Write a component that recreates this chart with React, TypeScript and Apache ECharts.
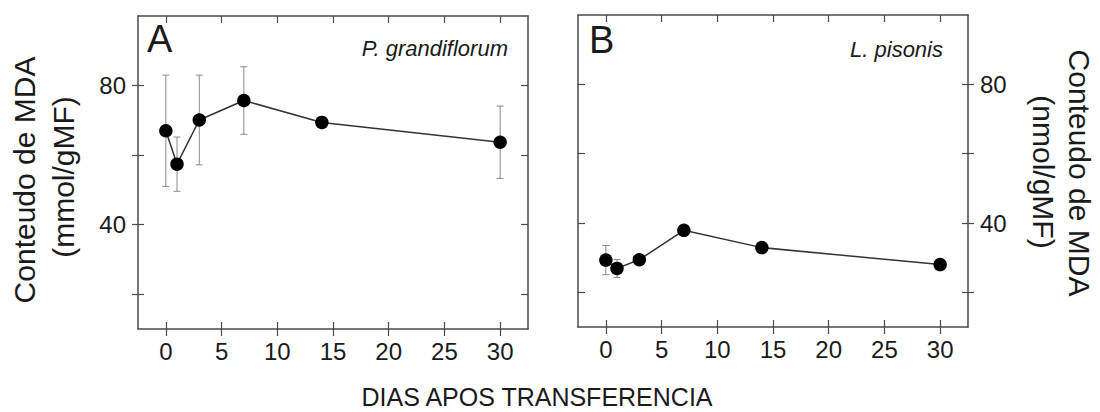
import React, { useEffect, useRef } from "react";
import * as echarts from "echarts";

const days = [0, 1, 3, 7, 14, 30];
const mdaA = [67.0, 57.4, 70.1, 75.7, 69.4, 63.7];
const errA = [16.0, 7.8, 12.9, 9.7, 0, 10.4];
const mdaB = [29.3, 26.9, 29.4, 37.9, 32.9, 28.0];
const errB = [4.2, 2.6, 0, 0, 0, 0];
const xTicks = [0, 5, 10, 15, 20, 25, 30];
const yTicks = [20, 40, 60, 80];
const yLabels = [40, 80];

const FONT = "'Liberation Sans', Arial, sans-serif";
const AX = "#4a4a4a";
const TXT = "#1a1a1a";

function xAxes(gridIndex: number) {
  const base = {
    type: "value",
    gridIndex,
    min: -2.5,
    max: 32.5,
    splitLine: { show: false },
  };
  return [
    {
      ...base,
      position: "bottom",
      axisLine: { show: true, onZero: false, lineStyle: { color: AX, width: 1.5 } },
      axisTick: { show: true, inside: false, length: 7, customValues: xTicks, lineStyle: { color: AX, width: 1.2 } },
      axisLabel: { show: true, customValues: xTicks, margin: 10, fontSize: 24, fontFamily: FONT, color: TXT },
    },
    {
      ...base,
      position: "bottom",
      axisLine: { show: false, onZero: false },
      axisTick: { show: true, inside: true, length: 7, customValues: xTicks, lineStyle: { color: AX, width: 1.2 } },
      axisLabel: { show: false },
    },
    {
      ...base,
      position: "top",
      axisLine: { show: true, onZero: false, lineStyle: { color: AX, width: 1.5 } },
      axisTick: { show: true, inside: true, length: 7, customValues: xTicks, lineStyle: { color: AX, width: 1.2 } },
      axisLabel: { show: false },
    },
  ];
}

function yAxes(gridIndex: number, labelSide: "left" | "right") {
  const other = labelSide === "left" ? "right" : "left";
  const base = {
    type: "value",
    gridIndex,
    min: 10,
    max: 100,
    splitLine: { show: false },
  };
  return [
    {
      ...base,
      position: labelSide,
      axisLine: { show: true, onZero: false, lineStyle: { color: AX, width: 1.5 } },
      axisTick: { show: true, inside: false, length: 6, customValues: yTicks, lineStyle: { color: AX, width: 1.2 } },
      axisLabel: { show: true, customValues: yLabels, margin: 12, fontSize: 24, fontFamily: FONT, color: TXT },
    },
    {
      ...base,
      position: labelSide,
      axisLine: { show: false, onZero: false },
      axisTick: { show: true, inside: true, length: 6, customValues: yTicks, lineStyle: { color: AX, width: 1.2 } },
      axisLabel: { show: false },
    },
    {
      ...base,
      position: other,
      axisLine: { show: true, onZero: false, lineStyle: { color: AX, width: 1.5 } },
      axisTick: { show: true, inside: true, length: 7, customValues: yTicks, lineStyle: { color: AX, width: 1.2 } },
      axisLabel: { show: false },
    },
  ];
}

function errorRender(params: any, api: any) {
  const x = api.value(0);
  const y = api.value(1);
  const e = api.value(2);
  if (!e) return null;
  const top = api.coord([x, y + e]);
  const bot = api.coord([x, y - e]);
  const w = 3.5;
  const style = { stroke: "#8a8a8a", lineWidth: 1 };
  return {
    type: "group",
    children: [
      { type: "line", shape: { x1: top[0], y1: top[1], x2: bot[0], y2: bot[1] }, style },
      { type: "line", shape: { x1: top[0] - w, y1: top[1], x2: top[0] + w, y2: top[1] }, style },
      { type: "line", shape: { x1: bot[0] - w, y1: bot[1], x2: bot[0] + w, y2: bot[1] }, style },
    ],
  };
}

export default function App() {
  const ref = useRef<HTMLDivElement>(null);
  useEffect(() => {
    if (!ref.current) return;
    const chart = echarts.init(ref.current, null, { renderer: "svg" });
    const lineData = (ys: number[]) => days.map((d, i) => [d, ys[i]]);
    const errData = (ys: number[], es: number[]) => days.map((d, i) => [d, ys[i], es[i]]);
    const lineSeries = (xi: number, yi: number, ys: number[]) => ({
      type: "line",
      xAxisIndex: xi,
      yAxisIndex: yi,
      data: lineData(ys),
      symbol: "circle",
      symbolSize: 13.5,
      itemStyle: { color: "#000" },
      lineStyle: { color: "#333", width: 1.5 },
      z: 3,
    });
    const errSeries = (xi: number, yi: number, ys: number[], es: number[]) => ({
      type: "custom",
      xAxisIndex: xi,
      yAxisIndex: yi,
      data: errData(ys, es),
      renderItem: errorRender,
      encode: { x: 0, y: 1 },
      z: 2,
    });
    chart.setOption({
      animation: false,
      backgroundColor: "#fff",
      grid: [
        { left: 138, top: 16, width: 390, height: 313 },
        { left: 578, top: 15, width: 390, height: 312 },
      ],
      xAxis: [...xAxes(0), ...xAxes(1)],
      yAxis: [...yAxes(0, "left"), ...yAxes(1, "right")],
      series: [
        errSeries(0, 0, mdaA, errA),
        lineSeries(0, 0, mdaA),
        errSeries(3, 3, mdaB, errB),
        lineSeries(3, 3, mdaB),
      ],
      graphic: [
        { type: "text", left: 147, top: 20, style: { text: "A", fontSize: 38, fontFamily: FONT, fill: TXT } },
        { type: "text", left: 589, top: 21, style: { text: "B", fontSize: 38, fontFamily: FONT, fill: TXT } },
        { type: "text", x: 508, y: 48, style: { text: "P. grandiflorum", fontSize: 22, fontStyle: "italic", fontFamily: FONT, fill: TXT, align: "right", verticalAlign: "middle" } },
        { type: "text", x: 943, y: 49, style: { text: "L. pisonis", fontSize: 22, fontStyle: "italic", fontFamily: FONT, fill: TXT, align: "right", verticalAlign: "middle" } },
        { type: "text", x: 537, y: 397, style: { text: "DIAS APOS TRANSFERENCIA", fontSize: 25, fontFamily: FONT, fill: TXT, align: "center", verticalAlign: "middle" } },
        { type: "text", x: 24, y: 180, rotation: Math.PI / 2, style: { text: "Conteudo de MDA", fontSize: 30, fontFamily: FONT, fill: TXT, align: "center", verticalAlign: "middle" } },
        { type: "text", x: 63, y: 177, rotation: Math.PI / 2, style: { text: "(mmol/gMF)", fontSize: 30, fontFamily: FONT, fill: TXT, align: "center", verticalAlign: "middle" } },
        { type: "text", x: 1079, y: 173, rotation: -Math.PI / 2, style: { text: "Conteudo de MDA", fontSize: 30, fontFamily: FONT, fill: TXT, align: "center", verticalAlign: "middle" } },
        { type: "text", x: 1043, y: 172, rotation: -Math.PI / 2, style: { text: "(nmol/gMF)", fontSize: 30, fontFamily: FONT, fill: TXT, align: "center", verticalAlign: "middle" } },
      ],
    });
    return () => chart.dispose();
  }, []);
  return (
    <div
      ref={ref}
      style={{ position: "fixed", left: 0, top: 0, width: 1100, height: 412, background: "#fff" }}
    />
  );
}
